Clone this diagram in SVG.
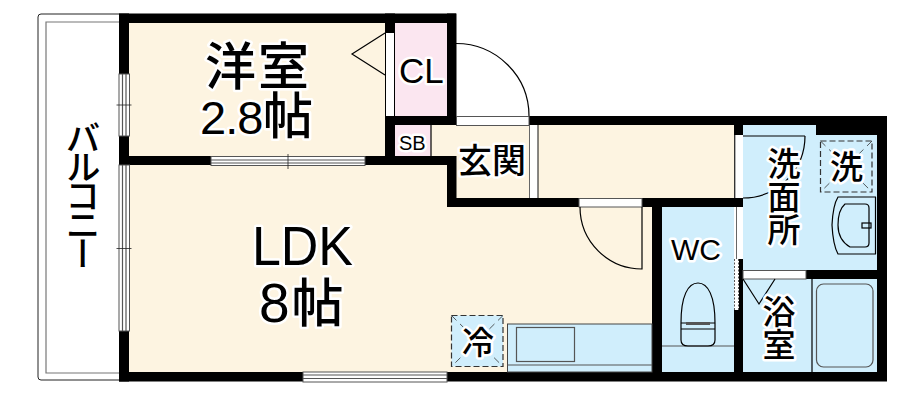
<svg xmlns="http://www.w3.org/2000/svg" width="924" height="400" viewBox="0 0 924 400">
<style>
.wall{fill:#000}
.cream{fill:#fdf4e1}
.blue{fill:#d0eefc}
.pink{fill:#fbe6f0}
.open{fill:#fff;stroke:#555;stroke-width:1}
.ln{fill:none;stroke:#000;stroke-width:1.2}
.gl{fill:none;stroke:#555;stroke-width:1.2}
.dash{fill:#d0eefc;stroke:#333;stroke-width:1.2;stroke-dasharray:6 3}
.thin{stroke:#333;stroke-width:.8;stroke-dasharray:7 5;fill:none}
text{fill:#000;stroke:#fff;stroke-width:5px;paint-order:stroke;stroke-linejoin:round}
.jp{font-family:"Noto Sans CJK JP","Noto Sans",sans-serif;font-weight:500}
.en{font-family:"Liberation Sans",Arial,sans-serif}
.mix{font-family:"Liberation Sans","Noto Sans CJK JP",sans-serif}
.v{writing-mode:vertical-rl}
</style>
<g id="balcony">
<path d="M119 14H41Q38 14 38 17V377Q38 380 41 380H119" fill="#fff" stroke="#222" stroke-width="1"/>
<path d="M119 22H46V373H119" fill="none" stroke="#777" stroke-width="1.2"/>
<text class="jp v" x="83" y="120" font-size="35" letter-spacing="-6" style="stroke:none">バルコニー</text>
</g>
<g id="floors">
<rect class="cream" x="129" y="23" width="257" height="134"/>
<rect class="cream" x="129" y="165" width="523" height="208"/>
<rect class="cream" x="431" y="125" width="303" height="74"/>
<rect class="pink" x="395" y="23" width="52" height="94"/>
<rect class="pink" x="395" y="125" width="36" height="32"/>
<rect class="blue" x="662" y="207" width="72" height="166"/>
<path class="blue" d="M743 125H816V135H877V373H743Z"/>
</g>
<g id="walls">
<rect class="wall" x="119" y="13.500" width="337" height="9.500"/>
<rect class="wall" x="119" y="13.500" width="10" height="368"/>
<rect class="wall" x="119" y="156" width="92" height="9"/>
<rect class="wall" x="365" y="156" width="91" height="9"/>
<rect class="wall" x="385" y="13.500" width="10" height="151"/>
<rect class="wall" x="447" y="13.500" width="9.500" height="111.500"/>
<rect class="wall" x="385" y="116" width="71" height="9"/>
<rect class="wall" x="529" y="116" width="358" height="9"/>
<rect class="wall" x="447" y="156" width="9.500" height="51"/>
<rect class="wall" x="447" y="198" width="296" height="9"/>
<rect class="wall" x="652" y="198" width="10" height="183"/>
<rect class="wall" x="734" y="116" width="9" height="91"/>
<rect class="wall" x="816" y="116" width="71" height="19"/>
<rect class="wall" x="877" y="116" width="10" height="265"/>
<rect class="wall" x="119" y="372" width="768" height="9.500"/>
<rect class="wall" x="806" y="270" width="71" height="9"/>
<rect class="wall" x="734" y="259" width="9" height="122"/>
</g>
<g id="openings">
<g id="win-west-1"><rect class="open" x="119" y="74" width="10.500" height="62"/><path class="gl" d="M122.500 74V136M126 74V136"/><path d="M116.500 105H131.500" stroke="#222" stroke-width=".8"/></g>
<g id="win-west-2"><rect class="open" x="119" y="165" width="10.500" height="166"/><path class="gl" d="M122.500 165V331M126 165V331"/><path d="M116.500 248.500H131.500" stroke="#222" stroke-width=".8"/></g>
<g id="win-inner"><rect class="open" x="211" y="156.500" width="154" height="9"/><path class="gl" d="M211 160H365M211 163H365"/><path d="M288 154V169" stroke="#222" stroke-width=".8"/></g>
<g id="win-south"><rect class="open" x="303" y="372" width="144" height="10"/><path class="gl" d="M303 375H447M303 378.500H447"/></g>
<rect x="386" y="33" width="8" height="83" fill="#fff"/>
<rect class="open" x="456.500" y="116.500" width="72.500" height="9"/>
<rect x="529" y="125" width="9" height="73" fill="#fff"/>
<path d="M529.500 125V198" stroke="#666" stroke-width="1"/>
<path d="M538 125V198" stroke="#111" stroke-width="1"/>
<rect class="open" x="579" y="198.500" width="63" height="8.500"/>
<rect x="735" y="135" width="8" height="63" fill="#fff"/>
<path d="M735 135V198" stroke="#666" stroke-width="1"/>
<rect x="736" y="207" width="7" height="52" fill="#fff"/>
<path d="M736.500 207V259" stroke="#666" stroke-width="1"/>
<rect x="734" y="259" width="5" height="51" fill="#fff"/>
<path d="M734.500 259V310M738.500 259V310" stroke="#555" stroke-width="1" stroke-dasharray="2 1.500"/>
<rect class="open" x="743" y="270.500" width="63" height="8.500"/>
</g>
<g id="connectors">
<path class="ln" d="M456 43.500A73 72.500 0 0 1 529 116"/>
<path class="ln" d="M580 207A62 62 0 0 0 642 269V207"/>
<path class="ln" d="M805 136H743M805 136A62 62 0 0 1 743 198"/>
<path class="ln" d="M385 33L352 54L385 75"/>
<path class="ln" d="M743 279L759 304L775 279"/>
<path class="ln" d="M431 125V156"/>
</g>
<g id="kitchen">
<rect x="507.500" y="324" width="144.500" height="48" fill="#d0eefc" stroke="#444" stroke-width="1"/>
<path class="gl" d="M507.500 365H652"/>
<rect class="gl" x="516.500" y="327.500" width="58" height="34"/>
</g>
<g id="fridge">
<rect class="dash" x="451.500" y="315.500" width="51.500" height="51"/>
<path class="thin" d="M451.500 315.500L503 366.500M503 315.500L451.500 366.500"/>
<text class="jp" x="462" y="354" font-size="32">冷</text>
</g>
<g id="washer">
<rect class="dash" x="820.500" y="141" width="51.500" height="51"/>
<path class="thin" d="M820.500 141L872 192M872 141L820.500 192"/>
<text class="jp" x="830" y="179" font-size="33">洗</text>
</g>
<g id="basin">
<path class="ln" d="M876 197H838Q833 205 832 225Q833 245 838 254H876" fill="none"/>
<path class="ln" d="M875.500 197V254"/>
<path class="ln" d="M845 204H865Q869 204 869 208V243Q869 247 865 247H850Q838 240 838 225Q838 210 845 204Z"/>
<rect class="ln" x="862" y="223" width="9" height="5" fill="#fff"/>
</g>
<g id="toilet">
<path class="gl" d="M662 346H734"/>
<path class="ln" d="M681 323C681 296 688 283 698 283C708 283 715 296 715 323V340Q715 346 708 346H688Q681 346 681 340Z"/>
<path class="ln" d="M681 323H715M681 329H715"/>
<rect x="686" y="322" width="24" height="3" fill="#555"/>
</g>
<g id="bath">
<path class="ln" d="M812 279V372"/>
<rect class="gl" x="816.500" y="284" width="56.500" height="83" rx="7"/>
</g>
<g id="labels">
<text class="jp" x="205" y="85" font-size="51" letter-spacing="2">洋室</text>
<text class="mix" x="200" y="134" font-size="47" letter-spacing="-1"><tspan>2.8</tspan><tspan x="263" font-size="50" font-weight="500">帖</tspan></text>
<text class="en" x="252" y="265" font-size="55" textLength="101" lengthAdjust="spacingAndGlyphs">LDK</text>
<text class="mix" x="259" y="322" font-size="55"><tspan>8</tspan><tspan font-size="52" dx="2" font-weight="500">帖</tspan></text>
<text class="en" x="399" y="83" font-size="35">CL</text>
<text class="en" x="399" y="150" font-size="20">SB</text>
<text class="jp" x="458" y="173" font-size="34">玄関</text>
<text class="en" x="671" y="260" font-size="30">WC</text>
<text class="jp v" x="784" y="147" font-size="33">洗面所</text>
<text class="jp v" x="779" y="295" font-size="33">浴室</text>
</g>
</svg>
